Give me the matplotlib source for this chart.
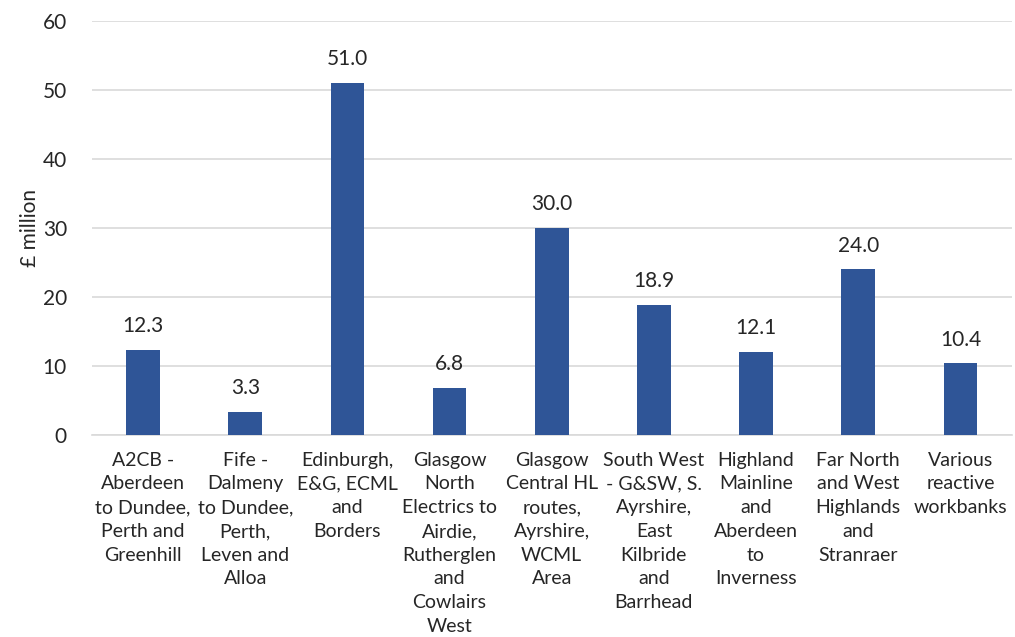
import matplotlib
matplotlib.use('Agg')
import matplotlib.pyplot as plt
import numpy as np

#-------------------------------
# chart data

categories = ['A2CB -\nAberdeen\nto Dundee,\nPerth and\nGreenhill',
              'Fife -\nDalmeny\nto Dundee,\nPerth,\nLeven and\nAlloa',
              'Edinburgh,\nE&G, ECML\nand\nBorders',
              'Glasgow\nNorth\nElectrics to\nAirdie,\nRutherglen\nand\nCowlairs\nWest',
              'Glasgow\nCentral HL\nroutes,\nAyrshire,\nWCML\nArea',
              'South West\n- G&SW, S.\nAyrshire,\nEast\nKilbride\nand\nBarrhead',
              'Highland\nMainline\nand\nAberdeen\nto\nInverness',
              'Far North\nand West\nHighlands\nand\nStranraer',
              'Various\nreactive\nworkbanks']
values = [12.3, 3.3, 51.0, 6.8, 30.0, 18.9, 12.1, 24.0, 10.4]

#-------------------------------
# plotting

plt.rcParams['font.family'] = ['Lato', 'DejaVu Sans']
text_col = '#262626'

fig = plt.figure(figsize=(10.15, 6.37), dpi=100)
ax = fig.add_axes([0.0906, 0.317, 0.906, 0.65])

x = np.arange(len(values))
ax.bar(x, values, width=0.33, color='#2F5597', zorder=3)

for xi, v in zip(x, values):
    ax.text(xi, v + 2.0, '{:.1f}'.format(v), ha='center', va='bottom',
            fontsize=15, color=text_col)

ax.set_ylim(0, 60)
ax.set_xlim(-0.5, len(values) - 0.5)
ax.set_yticks(range(0, 61, 10))
ax.grid(axis='y', color='#D9D9D9', linewidth=1.2, zorder=0)
ax.set_xticks(x)
ax.set_xticklabels(categories, fontsize=14, color=text_col, linespacing=1.48)
ax.tick_params(axis='x', length=0, pad=12)
ax.tick_params(axis='y', length=0, pad=18, labelsize=15, labelcolor=text_col)
for s in ['top', 'right', 'left']:
    ax.spines[s].set_visible(False)
ax.spines['bottom'].set_color('#D9D9D9')
ax.spines['bottom'].set_linewidth(1.2)

ax.set_ylabel('£ million', fontsize=15, color=text_col)
ax.yaxis.set_label_coords(-0.056, 0.5)

fig.savefig('out.png', dpi=100)
